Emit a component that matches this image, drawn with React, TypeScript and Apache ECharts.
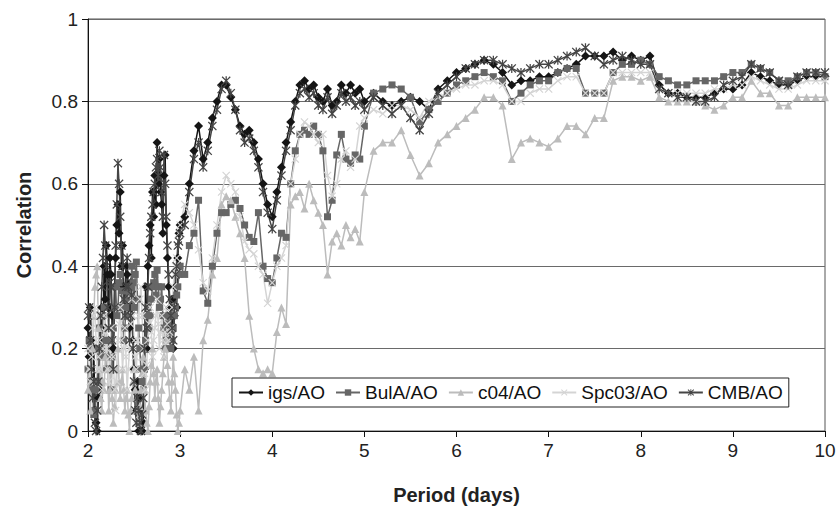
import React, { useEffect, useRef } from 'react';
import * as echarts from 'echarts';

const periods = [
  2.0000, 2.0125, 2.0250, 2.0375, 2.0500, 2.0625, 2.0750, 2.0875, 2.1000, 2.1125,
  2.1250, 2.1375, 2.1500, 2.1625, 2.1750, 2.1875, 2.2000, 2.2125, 2.2250, 2.2375,
  2.2500, 2.2625, 2.2750, 2.2875, 2.3000, 2.3125, 2.3250, 2.3375, 2.3500, 2.3625,
  2.3750, 2.3875, 2.4000, 2.4125, 2.4250, 2.4375, 2.4500, 2.4625, 2.4750, 2.4875,
  2.5000, 2.5125, 2.5250, 2.5375, 2.5500, 2.5625, 2.5750, 2.5875, 2.6000, 2.6125,
  2.6250, 2.6375, 2.6500, 2.6625, 2.6750, 2.6875, 2.7000, 2.7125, 2.7250, 2.7375,
  2.7500, 2.7625, 2.7750, 2.7875, 2.8000, 2.8125, 2.8250, 2.8375, 2.8500, 2.8625,
  2.8750, 2.8875, 2.9000, 2.9125, 2.9250, 2.9375, 2.9500, 2.9625, 2.9750, 2.9875,
  3.0000,
  3.05, 3.10, 3.15, 3.20, 3.25, 3.30, 3.35, 3.40, 3.45, 3.50,
  3.55, 3.60, 3.65, 3.70, 3.75, 3.80, 3.85, 3.90, 3.95, 4.00,
  4.05, 4.10, 4.15, 4.20, 4.25, 4.30, 4.35, 4.40, 4.45, 4.50,
  4.55, 4.60, 4.65, 4.70, 4.75, 4.80, 4.85, 4.90, 4.95, 5.00,
  5.1, 5.2, 5.3, 5.4, 5.5, 5.6, 5.7, 5.8, 5.9, 6.0,
  6.1, 6.2, 6.3, 6.4, 6.5, 6.6, 6.7, 6.8, 6.9, 7.0,
  7.1, 7.2, 7.3, 7.4, 7.5, 7.6, 7.7, 7.8, 7.9, 8.0,
  8.1, 8.2, 8.3, 8.4, 8.5, 8.6, 8.7, 8.8, 8.9, 9.0,
  9.1, 9.2, 9.3, 9.4, 9.5, 9.6, 9.7, 9.8, 9.9, 10.0,
];

const igs = [
  0.25, 0.18, 0.30, 0.22, 0.12, 0.20, 0.05, 0.02, 0.00, 0.08,
  0.10, 0.25, 0.30, 0.22, 0.40, 0.32, 0.45, 0.38, 0.30, 0.42,
  0.38, 0.28, 0.20, 0.35, 0.42, 0.50, 0.55, 0.48, 0.58, 0.40,
  0.45, 0.35, 0.30, 0.40, 0.38, 0.30, 0.25, 0.36, 0.30, 0.22,
  0.15, 0.10, 0.05, 0.12, 0.00, 0.08, 0.05, 0.00, 0.02, 0.15,
  0.35, 0.20, 0.40, 0.45, 0.50, 0.42, 0.58, 0.52, 0.62, 0.55,
  0.70, 0.60, 0.66, 0.58, 0.55, 0.48, 0.62, 0.67, 0.50, 0.42,
  0.35, 0.30, 0.25, 0.32, 0.20, 0.28, 0.35, 0.30, 0.42, 0.48,
  0.50,
  0.52, 0.60, 0.68, 0.74, 0.66, 0.70, 0.76, 0.80, 0.84, 0.84,
  0.81, 0.78, 0.74, 0.72, 0.73, 0.70, 0.66, 0.60, 0.55, 0.52,
  0.58, 0.64, 0.70, 0.75, 0.80, 0.84, 0.85, 0.83, 0.84, 0.81,
  0.80, 0.83, 0.79, 0.80, 0.84, 0.82, 0.84, 0.82, 0.83, 0.80,
  0.82, 0.80, 0.79, 0.80, 0.81, 0.80, 0.78, 0.83, 0.85, 0.87,
  0.88, 0.89, 0.90, 0.89, 0.87, 0.84, 0.85, 0.85, 0.86, 0.86,
  0.87, 0.88, 0.89, 0.91, 0.91, 0.91, 0.92, 0.90, 0.91, 0.90,
  0.91, 0.84, 0.82, 0.82, 0.81, 0.81, 0.81, 0.82, 0.83, 0.83,
  0.84, 0.87, 0.86, 0.85, 0.84, 0.84, 0.85, 0.86, 0.86, 0.86,
];

const bulA = [
  0.15, 0.22, 0.20, 0.12, 0.10, 0.04, 0.05, 0.10, 0.12, 0.20,
  0.25, 0.18, 0.20, 0.28, 0.30, 0.22, 0.15, 0.18, 0.22, 0.15,
  0.10, 0.18, 0.25, 0.30, 0.35, 0.28, 0.30, 0.36, 0.38, 0.34,
  0.30, 0.22, 0.25, 0.30, 0.34, 0.32, 0.28, 0.35, 0.40, 0.36,
  0.30, 0.38, 0.41, 0.32, 0.25, 0.20, 0.15, 0.12, 0.10, 0.15,
  0.22, 0.28, 0.30, 0.25, 0.28, 0.32, 0.35, 0.36, 0.38, 0.33,
  0.39, 0.35, 0.30, 0.32, 0.35, 0.28, 0.25, 0.20, 0.22, 0.26,
  0.28, 0.24, 0.20, 0.22, 0.25, 0.28, 0.30, 0.33, 0.35, 0.38,
  0.40,
  0.38, 0.45, 0.48, 0.56, 0.34, 0.31, 0.40, 0.48, 0.53, 0.53,
  0.55, 0.56, 0.54, 0.50, 0.47, 0.46, 0.53, 0.40, 0.37, 0.36,
  0.42, 0.48, 0.47, 0.60, 0.68, 0.72, 0.73, 0.72, 0.74, 0.72,
  0.68, 0.52, 0.56, 0.67, 0.72, 0.66, 0.65, 0.67, 0.66, 0.74,
  0.82, 0.83, 0.84, 0.83, 0.81, 0.75, 0.78, 0.80, 0.82, 0.84,
  0.85, 0.86, 0.87, 0.86, 0.85, 0.80, 0.82, 0.84, 0.85, 0.85,
  0.87, 0.88, 0.88, 0.82, 0.82, 0.82, 0.87, 0.89, 0.89, 0.90,
  0.89, 0.86, 0.85, 0.84, 0.84, 0.85, 0.85, 0.85, 0.86, 0.87,
  0.87, 0.89, 0.88, 0.87, 0.85, 0.85, 0.86, 0.87, 0.87, 0.86,
];

const c04 = [
  0.10, 0.15, 0.05, 0.12, 0.20, 0.28, 0.35, 0.38, 0.40, 0.25,
  0.15, 0.08, 0.05, 0.12, 0.10, 0.18, 0.25, 0.15, 0.05, 0.10,
  0.15, 0.08, 0.02, 0.06, 0.10, 0.15, 0.20, 0.12, 0.08, 0.12,
  0.15, 0.10, 0.05, 0.08, 0.10, 0.04, 0.00, 0.05, 0.08, 0.12,
  0.15, 0.10, 0.05, 0.03, 0.02, 0.06, 0.10, 0.14, 0.18, 0.10,
  0.05, 0.02, 0.00, 0.06, 0.12, 0.16, 0.20, 0.14, 0.08, 0.12,
  0.15, 0.08, 0.02, 0.06, 0.10, 0.14, 0.18, 0.20, 0.22, 0.16,
  0.12, 0.08, 0.05, 0.12, 0.18, 0.14, 0.10, 0.04, 0.00, 0.02,
  0.05,
  0.15, 0.10, 0.18, 0.05, 0.22, 0.27, 0.38, 0.42, 0.55, 0.57,
  0.56, 0.52, 0.48, 0.42, 0.28, 0.20, 0.15, 0.14, 0.15, 0.14,
  0.24, 0.30, 0.26, 0.55, 0.57, 0.58, 0.54, 0.60, 0.56, 0.53,
  0.50, 0.38, 0.46, 0.48, 0.45, 0.50, 0.47, 0.49, 0.46, 0.58,
  0.68, 0.70, 0.70, 0.73, 0.67, 0.62, 0.65, 0.70, 0.72, 0.74,
  0.76, 0.78, 0.81, 0.81, 0.79, 0.66, 0.70, 0.71, 0.70, 0.69,
  0.71, 0.74, 0.74, 0.72, 0.76, 0.76, 0.85, 0.86, 0.86, 0.85,
  0.86, 0.81, 0.80, 0.80, 0.80, 0.80, 0.79, 0.78, 0.79, 0.81,
  0.81, 0.85, 0.82, 0.82, 0.79, 0.79, 0.81, 0.81, 0.81, 0.81,
];

const spc03 = [
  0.20, 0.15, 0.12, 0.18, 0.25, 0.28, 0.30, 0.22, 0.15, 0.18,
  0.22, 0.15, 0.10, 0.20, 0.28, 0.24, 0.20, 0.15, 0.12, 0.18,
  0.25, 0.22, 0.18, 0.10, 0.05, 0.12, 0.22, 0.26, 0.30, 0.22,
  0.15, 0.20, 0.25, 0.18, 0.10, 0.15, 0.20, 0.26, 0.32, 0.28,
  0.22, 0.18, 0.15, 0.22, 0.28, 0.32, 0.35, 0.28, 0.20, 0.14,
  0.10, 0.16, 0.22, 0.26, 0.30, 0.24, 0.18, 0.22, 0.25, 0.28,
  0.32, 0.26, 0.20, 0.24, 0.28, 0.22, 0.18, 0.24, 0.30, 0.26,
  0.22, 0.24, 0.25, 0.30, 0.35, 0.38, 0.40, 0.42, 0.45, 0.48,
  0.50,
  0.55, 0.53, 0.50, 0.44, 0.36, 0.34, 0.42, 0.50, 0.58, 0.62,
  0.60, 0.58, 0.52, 0.46, 0.44, 0.43, 0.40, 0.38, 0.31, 0.36,
  0.40, 0.42, 0.45, 0.60, 0.66, 0.72, 0.75, 0.74, 0.72, 0.70,
  0.72, 0.62, 0.57, 0.60, 0.66, 0.68, 0.64, 0.66, 0.74, 0.76,
  0.78, 0.77, 0.79, 0.79, 0.78, 0.76, 0.80, 0.81, 0.82, 0.83,
  0.84, 0.84, 0.85, 0.85, 0.84, 0.80, 0.80, 0.82, 0.83, 0.83,
  0.85, 0.86, 0.86, 0.82, 0.82, 0.82, 0.87, 0.87, 0.87, 0.87,
  0.87, 0.83, 0.82, 0.82, 0.82, 0.82, 0.82, 0.83, 0.83, 0.84,
  0.84, 0.86, 0.85, 0.84, 0.83, 0.83, 0.84, 0.85, 0.85, 0.85,
];

const cmb = [
  0.28, 0.30, 0.22, 0.15, 0.08, 0.12, 0.02, 0.00, 0.05, 0.12,
  0.20, 0.28, 0.35, 0.42, 0.50, 0.45, 0.40, 0.30, 0.25, 0.36,
  0.35, 0.22, 0.15, 0.30, 0.45, 0.55, 0.65, 0.60, 0.52, 0.45,
  0.40, 0.32, 0.28, 0.35, 0.42, 0.35, 0.22, 0.28, 0.33, 0.20,
  0.12, 0.05, 0.02, 0.08, 0.05, 0.02, 0.00, 0.04, 0.08, 0.20,
  0.30, 0.25, 0.35, 0.42, 0.48, 0.52, 0.55, 0.58, 0.60, 0.64,
  0.66, 0.62, 0.68, 0.64, 0.58, 0.52, 0.67, 0.60, 0.52, 0.45,
  0.38, 0.32, 0.28, 0.25, 0.22, 0.30, 0.38, 0.40, 0.45, 0.46,
  0.48,
  0.50, 0.58, 0.66, 0.70, 0.64, 0.68, 0.74, 0.78, 0.83, 0.85,
  0.82, 0.78, 0.73, 0.70, 0.71, 0.68, 0.64, 0.58, 0.53, 0.49,
  0.56, 0.62, 0.68, 0.73, 0.79, 0.82, 0.83, 0.81, 0.82, 0.79,
  0.78, 0.81, 0.77, 0.79, 0.82, 0.80, 0.81, 0.79, 0.80, 0.78,
  0.81, 0.79, 0.77, 0.79, 0.76, 0.73, 0.77, 0.82, 0.84, 0.86,
  0.88, 0.89, 0.90, 0.90, 0.89, 0.88, 0.87, 0.88, 0.89, 0.89,
  0.90, 0.91, 0.92, 0.93, 0.91, 0.89, 0.90, 0.91, 0.90, 0.89,
  0.89, 0.83, 0.82, 0.81, 0.81, 0.80, 0.80, 0.81, 0.84, 0.85,
  0.86, 0.89, 0.88, 0.87, 0.85, 0.84, 0.86, 0.87, 0.87, 0.87,
];

const seriesNames = ['igs/AO', 'BulA/AO', 'c04/AO', 'Spc03/AO', 'CMB/AO'];
const xTicks = [2, 3, 4, 5, 6, 7, 8, 9, 10];
const yTicks = [0, 0.2, 0.4, 0.6, 0.8, 1];

const X_PATH = 'path://M0,1L1,0L5,4L9,0L10,1L6,5L10,9L9,10L5,6L1,10L0,9L4,5Z';
const STAR_PATH =
  'path://M0,1L1,0L5,4L9,0L10,1L6,5L10,9L9,10L5,6L1,10L0,9L4,5Z M4.3,0L5.7,0L5.7,10L4.3,10Z';

const FONT = 'Arial, "Liberation Sans", Helvetica, sans-serif';

function mk(name: string, values: number[], color: string, symbol: string, size: number) {
  return {
    name,
    type: 'line',
    data: periods.map((p, i) => [p, values[i]]),
    symbol,
    symbolSize: size,
    showSymbol: true,
    showAllSymbol: true,
    lineStyle: { color, width: 1.5 },
    itemStyle: { color },
    emphasis: { disabled: true },
  };
}

export default function App() {
  const ref = useRef<HTMLDivElement>(null);
  useEffect(() => {
    const chart = echarts.init(ref.current as HTMLDivElement, null, { renderer: 'svg' });
    chart.setOption({
      animation: false,
      backgroundColor: '#ffffff',
      textStyle: { fontFamily: FONT },
      grid: {
        left: 88,
        right: 15,
        top: 19,
        bottom: 76,
        show: true,
        borderColor: '#555',
        borderWidth: 1,
        containLabel: false,
      },
      legend: {
        data: seriesNames,
        left: 232,
        top: 378,
        orient: 'horizontal',
        backgroundColor: '#fff',
        borderColor: '#222',
        borderWidth: 1,
        padding: [5, 6],
        itemGap: 10,
        itemWidth: 24,
        itemHeight: 8,
        textStyle: { fontSize: 19, color: '#111', fontFamily: FONT },
      },
      xAxis: {
        type: 'value',
        min: xTicks[0],
        max: xTicks[xTicks.length - 1],
        interval: 1,
        name: 'Period (days)',
        nameLocation: 'middle',
        nameGap: 54,
        nameTextStyle: { fontSize: 20, fontWeight: 'bold', color: '#222', fontFamily: FONT },
        axisLine: { show: true, onZero: false, lineStyle: { color: '#111', width: 1 } },
        axisTick: { show: true, inside: false, length: 6, lineStyle: { color: '#111' } },
        axisLabel: { fontSize: 19, color: '#222', margin: 10, fontFamily: FONT },
        splitLine: { show: false },
      },
      yAxis: {
        type: 'value',
        min: yTicks[0],
        max: yTicks[yTicks.length - 1],
        interval: 0.2,
        name: 'Correlation',
        nameLocation: 'middle',
        nameGap: 54,
        nameTextStyle: { fontSize: 20, fontWeight: 'bold', color: '#222', fontFamily: FONT },
        axisLine: { show: true, onZero: false, lineStyle: { color: '#111', width: 1 } },
        axisTick: { show: true, inside: false, length: 6, lineStyle: { color: '#111' } },
        axisLabel: { fontSize: 19, color: '#222', margin: 10, fontFamily: FONT },
        splitLine: { show: true, lineStyle: { color: '#6a6a6a', width: 1.2 } },
      },
      series: [
        mk(seriesNames[0], igs, '#151515', 'diamond', 9),
        mk(seriesNames[1], bulA, '#666666', 'rect', 7),
        mk(seriesNames[2], c04, '#bcbcbc', 'triangle', 8),
        mk(seriesNames[3], spc03, '#d4d4d4', X_PATH, 8),
        mk(seriesNames[4], cmb, '#454545', STAR_PATH, 9),
      ],
    });
    return () => chart.dispose();
  }, []);
  return (
    <div
      ref={ref}
      style={{ position: 'fixed', left: 0, top: 0, width: 840, height: 510, background: '#fff' }}
    />
  );
}
